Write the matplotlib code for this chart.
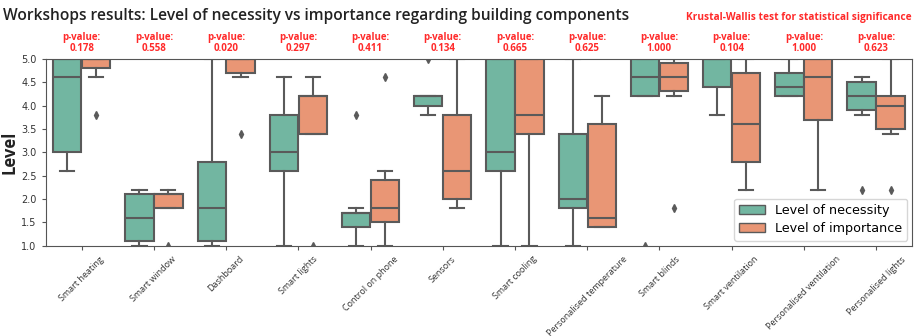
import numpy as np
import matplotlib
matplotlib.use("Agg")
import matplotlib.pyplot as plt
import seaborn as sns
from matplotlib.patches import Patch

# categories and p-values (Kruskal-Wallis)
categories = ["Smart heating", "Smart window", "Dashboard", "Smart lights",
              "Control on phone", "Sensors", "Smart cooling",
              "Personalised temperature", "Smart blinds", "Smart ventilation",
              "Personalised ventilation", "Personalised lights"]
p_values = [0.178, 0.558, 0.020, 0.297, 0.411, 0.134, 0.665,
            0.625, 1.000, 0.104, 1.000, 0.623]

# box statistics: level of necessity
nec_med = [4.6, 1.6, 1.8, 3.0, 1.7, 4.2, 3.0, 2.0, 4.6, 5.0, 4.4, 4.2]
nec_q1 = [3.0, 1.1, 1.1, 2.6, 1.4, 4.0, 2.6, 1.8, 4.2, 4.4, 4.2, 3.9]
nec_q3 = [5.0, 2.1, 2.8, 3.8, 1.7, 4.2, 5.0, 3.4, 5.0, 5.0, 4.7, 4.5]
nec_lo = [2.6, 1.0, 1.0, 1.0, 1.0, 3.8, 1.0, 1.0, 4.2, 3.8, 4.2, 3.8]
nec_hi = [5.0, 2.2, 5.0, 4.6, 1.8, 4.2, 5.0, 5.0, 5.0, 5.0, 5.0, 4.6]
nec_fliers = [[], [], [], [], [3.8], [5.0], [], [], [1.0], [], [], [2.2]]

# level of importance
imp_med = [5.0, 2.1, 5.0, 4.2, 1.8, 2.6, 3.8, 1.6, 4.6, 3.6, 4.6, 4.0]
imp_q1 = [4.8, 1.8, 4.7, 3.4, 1.5, 2.0, 3.4, 1.4, 4.3, 2.8, 3.7, 3.5]
imp_q3 = [5.0, 2.1, 5.0, 4.2, 2.4, 3.8, 5.0, 3.6, 4.9, 4.7, 5.0, 4.2]
imp_lo = [4.6, 1.8, 4.6, 3.4, 1.0, 1.8, 1.0, 1.4, 4.2, 2.2, 2.2, 3.4]
imp_hi = [5.0, 2.2, 5.0, 4.6, 2.6, 5.0, 5.0, 4.2, 5.0, 5.0, 5.0, 5.0]
imp_fliers = [[3.8], [1.0], [3.4], [1.0], [4.6], [], [], [], [1.8], [], [], [2.2]]

colors = sns.color_palette("Set2", desat=0.75)[:2]
line_col = "#5a5a5a"


def make_stats(med, q1, q3, lo, hi, fl):
    return [dict(med=m, q1=a, q3=b, whislo=l, whishi=h, fliers=f)
            for m, a, b, l, h, f in zip(med, q1, q3, lo, hi, fl)]


fig = plt.figure(figsize=(9.19, 3.36), dpi=100)
ax = fig.add_axes([0.0496, 0.269, 0.943, 0.556])

x = np.arange(len(categories))
width = 0.392
series = [(make_stats(nec_med, nec_q1, nec_q3, nec_lo, nec_hi, nec_fliers), -0.2),
          (make_stats(imp_med, imp_q1, imp_q3, imp_lo, imp_hi, imp_fliers), 0.2)]
for (stats, off), col in zip(series, colors):
    ax.bxp(stats, positions=x + off, widths=width, patch_artist=True,
           boxprops=dict(facecolor=col, edgecolor=line_col, linewidth=1.5),
           medianprops=dict(color=line_col, linewidth=1.5),
           whiskerprops=dict(color=line_col, linewidth=1.5),
           capprops=dict(color=line_col, linewidth=1.5),
           flierprops=dict(marker="d", markerfacecolor=line_col,
                           markeredgecolor=line_col, markersize=4),
           capwidths=width / 2, manage_ticks=False)

ax.set_xlim(-0.5, len(categories) - 0.5)
ax.set_ylim(1.0, 5.0)
ax.set_xticks(x)
ax.set_xticklabels(categories, rotation=45, ha="center",
                   fontsize=6.5, family="Open Sans", color="#333333")
ax.set_yticks(np.arange(1.0, 5.01, 0.5))
ax.set_yticklabels([f"{v:.1f}" for v in np.arange(1.0, 5.01, 0.5)],
                   fontsize=7, color="#333333")
ax.tick_params(axis="both", length=3, color="#555555")
for s in ax.spines.values():
    s.set_color("#555555")
ax.set_ylabel("Level", fontsize=12, fontweight="bold", family="Open Sans",
              color="#222222")
ax.yaxis.set_label_coords(-0.031, 0.5)

for xi, p in zip(x, p_values):
    ax.text(xi, 1.025, f"p-value:\n{p:.3f}", transform=ax.get_xaxis_transform(),
            ha="center", va="bottom", color="#ff2a2a", fontsize=7,
            fontweight="bold", family="Open Sans", linespacing=1.0)

fig.text(0.003, 0.953, "Workshops results: Level of necessity vs importance regarding building components",
         fontsize=11.2, fontweight="semibold", family="Open Sans", color="#222222",
         ha="left", va="center")
fig.text(0.992, 0.948, "Krustal-Wallis test for statistical significance",
         fontsize=7.25, fontweight="bold", family="Open Sans", color="#ff2a2a",
         ha="right", va="center")

handles = [Patch(facecolor=colors[0], edgecolor=line_col, label="Level of necessity"),
           Patch(facecolor=colors[1], edgecolor=line_col, label="Level of importance")]
ax.legend(handles=handles, loc="lower right", fontsize=9.2, handlelength=2.0,
          borderaxespad=0.4, labelspacing=0.45)

fig.savefig("out.png", dpi=100)
